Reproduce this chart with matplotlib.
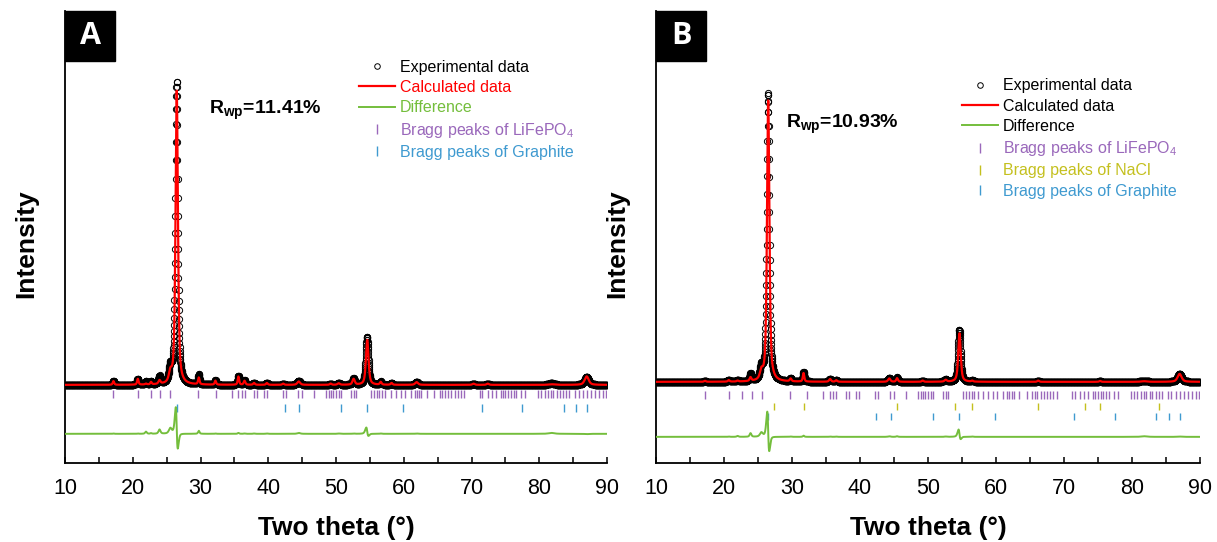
import numpy as np
import matplotlib
matplotlib.use("Agg")
import matplotlib.pyplot as plt
from matplotlib.lines import Line2D
from matplotlib.patches import Rectangle

plt.rcParams['font.family'] = ['Liberation Sans', 'DejaVu Sans']
plt.rcParams['mathtext.fontset'] = 'custom'
plt.rcParams['mathtext.rm'] = 'Liberation Sans'
plt.rcParams['mathtext.it'] = 'Liberation Sans:italic'
plt.rcParams['mathtext.bf'] = 'Liberation Sans:bold'

# measurement grid (2theta, deg)
two_theta = np.arange(10.0, 90.0001, 0.02)

# ---- sample A: fitted peaks (position, observed height, calculated height, fwhm)
a_pos = [17.15, 20.75, 21.95, 22.7, 23.95, 25.55, 26.47, 29.75, 32.2, 35.6, 36.5, 37.9,
         39.8, 42.2, 44.5, 49.2, 50.4, 52.6, 54.58, 56.6, 58.2, 61.9, 70.3, 72.4, 81.8, 87.0]
a_obs = [13, 20, 10, 10, 26, 48, 995, 32, 14, 30, 14, 7,
         7, 4, 14, 4, 6, 20, 158, 10, 6, 10, 4, 4, 5, 27]
a_calc = [12, 19, 3, 8, 12, 30, 968, 22, 13, 27, 13, 6,
          6, 4, 11, 4, 5, 19, 148, 9, 6, 9, 4, 4, 2, 28]
a_calc_shift = {26.47: 0.022, 54.58: 0.03}
a_fwhm = [0.25, 0.25, 0.3, 0.25, 0.35, 0.5, 0.42, 0.25, 0.25, 0.25, 0.3, 0.3,
          0.3, 0.3, 0.5, 0.3, 0.4, 0.4, 0.45, 0.3, 0.3, 0.5, 0.4, 0.4, 1.0, 0.7]

# ---- sample B
b_pos = [17.2, 20.7, 22.0, 23.9, 25.5, 26.48, 29.8, 31.7, 35.6, 36.5, 44.3, 45.45,
         49.2, 52.6, 54.6, 56.5, 66.2, 75.3, 81.8, 87.0]
b_obs = [3, 6, 6, 24, 40, 950, 10, 32, 10, 6, 13, 14,
         4, 7, 172, 4, 4, 3, 4, 27]
b_calc = [3, 5, 3, 12, 26, 925, 9, 28, 9, 5, 11, 12,
          4, 6, 160, 3, 4, 3, 2, 26]
b_calc_shift = {26.48: 0.022, 54.6: 0.03}
b_fwhm = [0.3, 0.3, 0.3, 0.3, 0.5, 0.42, 0.3, 0.25, 0.35, 0.3, 0.4, 0.3,
          0.3, 0.4, 0.43, 0.3, 0.3, 0.3, 1.0, 0.7]

# ---- Bragg reflection positions
lfp_bragg = [17.15, 20.78, 22.68, 24.05, 25.57, 29.7, 32.23, 34.6, 35.6, 36.1, 36.53, 37.9,
             38.4, 39.4, 39.8, 42.25, 42.67, 44.4, 45.0, 46.8, 48.5, 48.9, 49.25, 49.6, 50.0,
             50.4, 50.7, 52.2, 52.6, 53.0, 55.1, 55.6, 56.0, 56.4, 56.8, 57.3, 58.1, 58.8,
             59.6, 60.2, 61.1, 61.6, 61.9, 62.3, 62.6, 63.4, 64.5, 65.3, 65.7, 66.1, 66.6,
             67.0, 67.5, 68.0, 68.4, 68.9, 71.2, 71.6, 72.4, 73.0, 73.6, 74.3, 74.6, 75.0,
             75.4, 75.8, 76.2, 76.6, 77.3, 77.9, 79.8, 80.3, 80.8, 81.3, 81.7, 82.1, 82.6,
             83.0, 83.5, 83.9, 84.4, 85.3, 85.8, 86.5, 87.0, 87.6, 88.3, 88.8, 89.4, 89.8]
nacl_bragg = [27.4, 31.7, 45.45, 53.9, 56.5, 66.2, 73.1, 75.3, 84.0]
graphite_bragg = [26.5, 42.4, 44.6, 50.7, 54.6, 59.9, 71.5, 77.5, 83.6, 85.4, 87.0]

RED = '#ff0000'
GREEN = '#74be3c'
PURPLE = '#9a68bb'
YELLOW = '#c4c01e'
BLUE = '#3f9ad0'


def pattern(x, pos, heights, fwhm, shift=None, eta=0.6):
    y = np.zeros_like(x)
    for p, h, w in zip(pos, heights, fwhm):
        if shift:
            p = p + shift.get(p, 0.0)
        u = (x - p) / w
        y += h * (eta / (1 + 4 * u ** 2) + (1 - eta) * np.exp(-4 * np.log(2) * u ** 2))
    return y


def draw_panel(ax, obs, calc, rows, diff_offset, ylim, rwp, rwp_xy,
               legend_xy, legend_colors, letter):
    ax.plot(two_theta, obs, ls='none', marker='o', ms=4.5, mfc='none', mec='black',
            mew=0.7, zorder=2)
    ax.plot(two_theta, calc, color=RED, lw=1.6, zorder=3)
    ax.plot(two_theta, obs - calc + diff_offset, color=GREEN, lw=1.4, zorder=3)

    handles = [
        Line2D([], [], ls='none', marker='o', ms=4, mfc='none', mec='black', mew=0.7),
        Line2D([], [], color=RED, lw=1.6),
        Line2D([], [], color=GREEN, lw=1.4),
    ]
    labels = ['Experimental data', 'Calculated data', 'Difference']
    for positions, center, color, name in rows:
        ax.vlines(positions, center - 13, center + 13, color=color, lw=1.0)
        handles.append(Line2D([], [], ls='none', marker='|', ms=7, mew=1.0, color=color))
        labels.append('Bragg peaks of ' + name)

    ax.set_xlim(10, 90)
    ax.set_ylim(*ylim)
    ax.set_yticks([])
    ax.set_xticks(np.arange(10, 91, 10))
    ax.set_xticks(np.arange(15, 90, 10), minor=True)
    ax.tick_params(axis='x', which='both', direction='in', length=4.5, width=1.1,
                   labelsize=15.5, pad=11)
    for side in ('top', 'right'):
        ax.spines[side].set_visible(False)
    for side in ('left', 'bottom'):
        ax.spines[side].set_linewidth(1.3)

    ax.set_xlabel('Two theta (°)', fontsize=19, fontweight='bold')
    ax.xaxis.set_label_coords(0.5, -0.118)
    ax.set_ylabel('Intensity', fontsize=19, fontweight='bold')
    ax.yaxis.set_label_coords(-0.05, 0.485)

    ax.text(rwp_xy[0], rwp_xy[1], r'R$_{\mathbf{wp}}$=' + rwp, transform=ax.transAxes,
            fontsize=14, fontweight='bold', va='center', ha='left')

    ax.legend(handles, labels, loc='upper left', bbox_to_anchor=legend_xy, frameon=False,
              fontsize=11.5, handlelength=2.25, handletextpad=0.3, labelspacing=0.33,
              borderpad=0, borderaxespad=0, labelcolor=legend_colors)

    # black tag with the panel letter
    bbox = ax.get_position()
    w, h = 50 / 1217, 50 / 542
    ax.figure.patches.append(Rectangle((bbox.x0, bbox.y1 - h), w, h, color='black',
                                       transform=ax.figure.transFigure, zorder=5))
    ax.figure.text(bbox.x0 + w / 2, bbox.y1 - h / 2, letter, color='white', fontsize=22,
                   fontweight='bold', family='Open Sans', ha='center', va='center',
                   zorder=6)


fig = plt.figure(figsize=(12.17, 5.42), dpi=100)
ax_a = fig.add_axes([65 / 1217, (542 - 463) / 542, 542 / 1217, 452 / 542])
ax_b = fig.add_axes([656 / 1217, (542 - 463) / 542, 544 / 1217, 452 / 542])

obs_a = pattern(two_theta, a_pos, a_obs, a_fwhm)
calc_a = pattern(two_theta, a_pos, a_calc, a_fwhm, shift=a_calc_shift)
draw_panel(ax_a, obs_a, calc_a,
           [(lfp_bragg, -30, PURPLE, r'LiFePO$_\mathrm{4}$'),
            (graphite_bragg, -76, BLUE, 'Graphite')],
           -161, (-257, 1230), '11.41%', (0.266, 0.779), (0.5424, 0.892),
           ['black', RED, GREEN, PURPLE, BLUE], 'A')

obs_b = pattern(two_theta, b_pos, b_obs, b_fwhm)
calc_b = pattern(two_theta, b_pos, b_calc, b_fwhm, shift=b_calc_shift)
draw_panel(ax_b, obs_b, calc_b,
           [(lfp_bragg, -44, PURPLE, r'LiFePO$_\mathrm{4}$'),
            (nacl_bragg, -81, YELLOW, 'NaCl'),
            (graphite_bragg, -114, BLUE, 'Graphite')],
           -181, (-267, 1220), '10.93%', (0.239, 0.75), (0.5625, 0.851),
           ['black', 'black', 'black', PURPLE, YELLOW, BLUE], 'B')

fig.savefig('out.png', dpi=100)
